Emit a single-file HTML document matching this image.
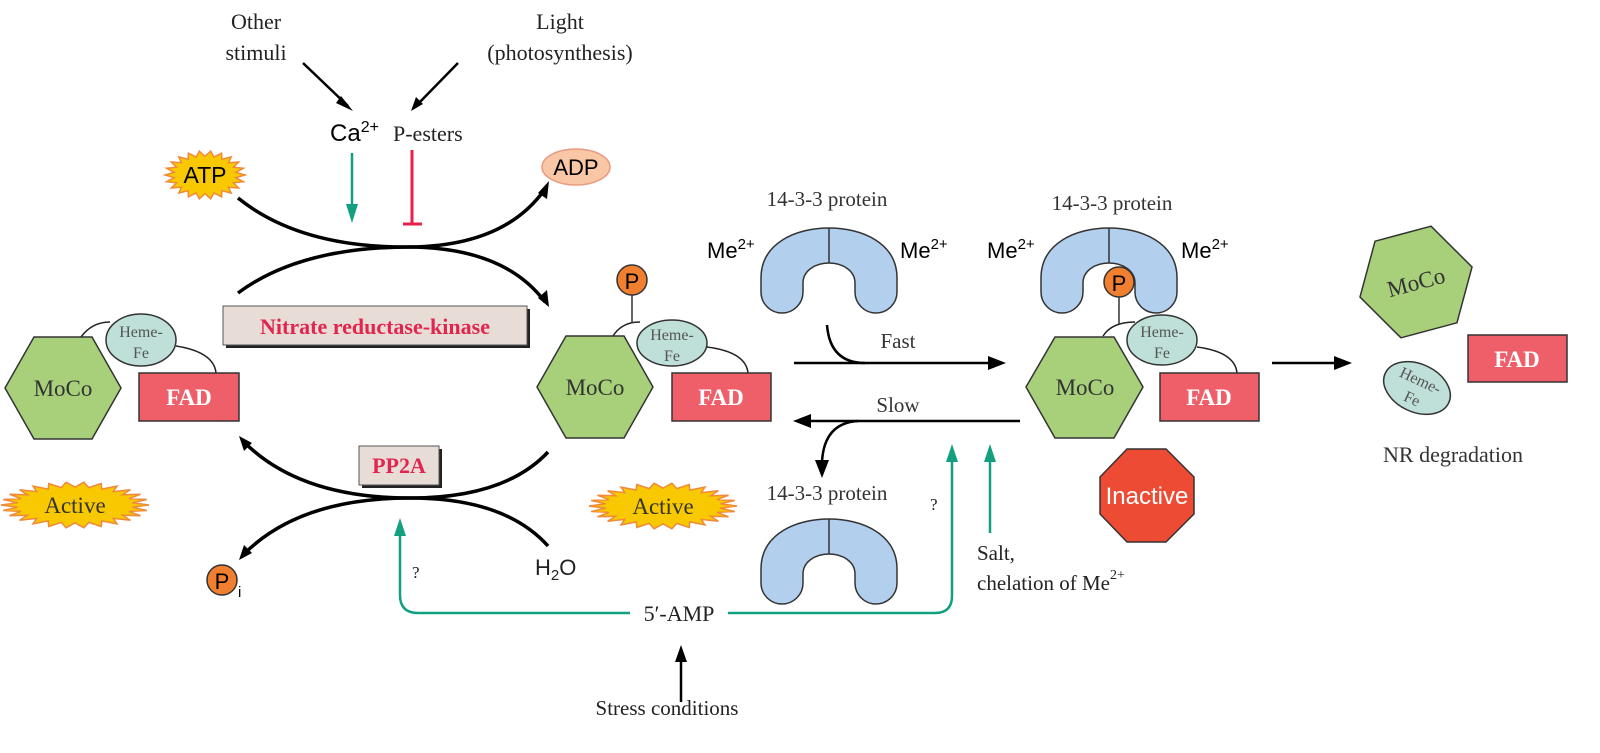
<!DOCTYPE html>
<html><head><meta charset="utf-8"><style>
html,body{margin:0;padding:0;background:#fff;}
svg{display:block;}
.s{font-family:"Liberation Serif",serif;}
.a{font-family:"Liberation Sans",sans-serif;}
</style></head><body>
<svg width="1600" height="753" viewBox="0 0 1600 753" xmlns="http://www.w3.org/2000/svg">
<defs>
<g id="U">
<path d="M0,50 C0,15 35,0 68,0 C101,0 136,15 136,50 L136,64 A21,21 0 0 1 94,64 L94,55 C94,43 82,35 68,35 C54,35 42,43 42,55 L42,64 A21,21 0 0 1 0,64 Z" fill="#b3cfee" stroke="#333" stroke-width="1.5"/>
<path d="M68,0 V35" stroke="#333" stroke-width="1.5"/>
</g>
</defs>

<!-- top labels -->
<text class="s" x="256" y="29" font-size="22" text-anchor="middle" fill="#222">Other</text>
<text class="s" x="256" y="60" font-size="22" text-anchor="middle" fill="#222">stimuli</text>
<text class="s" x="560" y="29" font-size="22" text-anchor="middle" fill="#222">Light</text>
<text class="s" x="560" y="60" font-size="22" text-anchor="middle" fill="#222">(photosynthesis)</text>
<path d="M303,63 L348,106" stroke="#000" stroke-width="2.5" fill="none"/>
<path d="M341,96 L353,111 L336,103 Z" fill="#000"/>
<path d="M458,63 L416,106" stroke="#000" stroke-width="2.5" fill="none"/>
<path d="M423,104 L411,111 L416,97 Z" fill="#000"/>
<text class="a" x="330" y="141" font-size="24" fill="#000">Ca<tspan font-size="16" dy="-9">2+</tspan></text>
<text class="s" x="393" y="141" font-size="22" fill="#222">P-esters</text>

<!-- green and red top -->
<path d="M352,153 V210" stroke="#12a080" stroke-width="2.5"/>
<path d="M346,204 L352,223 L358,204 Z" fill="#12a080"/>
<path d="M412,150 V224 M403,224 H422" stroke="#e8204a" stroke-width="3"/>

<!-- starbursts -->
<polygon id="b1" fill="#f8c800" stroke="#f08a3a" stroke-width="1.5"/>
<polygon id="b2" fill="#f8c800" stroke="#f08a3a" stroke-width="1.5"/>
<polygon id="b3" fill="#f8c800" stroke="#f08a3a" stroke-width="1.5"/>
<text class="a" x="205" y="183" font-size="23" text-anchor="middle" fill="#000">ATP</text>
<ellipse cx="576" cy="167" rx="34" ry="18" fill="#f9c6a6" stroke="#e89a80" stroke-width="1.5"/>
<text class="a" x="576" y="175" font-size="22" text-anchor="middle" fill="#000">ADP</text>

<!-- top arcs -->
<path d="M238,198 Q300,248 410,247 Q505,246 545,189" stroke="#000" stroke-width="3.5" fill="none"/>
<path d="M538,193 L549,181 L547,199 Z" fill="#000"/>
<path d="M238,293 Q300,247 410,247 Q505,248 545,302" stroke="#000" stroke-width="3.5" fill="none"/>
<path d="M538,298 L549,307 L547,290 Z" fill="#000"/>

<!-- NRK box -->
<rect x="226" y="309" width="304" height="39" fill="#222"/>
<rect x="223" y="306" width="304" height="39" fill="#e8ddd6" stroke="#555" stroke-width="1"/>
<text class="s" x="375" y="334" font-size="22" font-weight="bold" text-anchor="middle" fill="#e0264f">Nitrate reductase-kinase</text>

<!-- left complex -->
<path d="M81,337 Q92,322 110,322" stroke="#222" stroke-width="1.5" fill="none"/>
<path d="M176,346 Q214,352 216,373" stroke="#222" stroke-width="1.5" fill="none"/>
<polygon points="5,388 34,337 92,337 121,388 92,439 34,439" fill="#a8d07a" stroke="#333" stroke-width="1.5"/>
<text class="s" x="63" y="396" font-size="23" text-anchor="middle" fill="#333">MoCo</text>
<ellipse cx="141" cy="340" rx="35" ry="26" fill="#bfe0d8" stroke="#333" stroke-width="1.5"/>
<text class="s" x="141" y="337" font-size="16" text-anchor="middle" fill="#555">Heme-</text>
<text class="s" x="141" y="358" font-size="16" text-anchor="middle" fill="#555">Fe</text>
<rect x="139" y="373" width="100" height="48" fill="#ee5f6a" stroke="#333" stroke-width="1.5"/>
<text class="s" x="189" y="405" font-size="23" font-weight="bold" text-anchor="middle" fill="#fff">FAD</text>

<!-- middle complex -->
<path d="M613,336 Q622,322 640,322" stroke="#222" stroke-width="1.5" fill="none"/>
<path d="M632,295 V323" stroke="#333" stroke-width="1.5"/>
<circle cx="632" cy="280" r="15" fill="#f08030" stroke="#333" stroke-width="1.5"/>
<text class="a" x="632" y="289" font-size="22" text-anchor="middle" fill="#000">P</text>
<path d="M707,347 Q746,352 748,373" stroke="#222" stroke-width="1.5" fill="none"/>
<polygon points="537,387 566,336 624,336 653,387 624,438 566,438" fill="#a8d07a" stroke="#333" stroke-width="1.5"/>
<text class="s" x="595" y="395" font-size="23" text-anchor="middle" fill="#333">MoCo</text>
<ellipse cx="672" cy="343" rx="35" ry="23" fill="#bfe0d8" stroke="#333" stroke-width="1.5"/>
<text class="s" x="672" y="340" font-size="16" text-anchor="middle" fill="#555">Heme-</text>
<text class="s" x="672" y="361" font-size="16" text-anchor="middle" fill="#555">Fe</text>
<rect x="672" y="373" width="99" height="48" fill="#ee5f6a" stroke="#333" stroke-width="1.5"/>
<text class="s" x="721" y="405" font-size="23" font-weight="bold" text-anchor="middle" fill="#fff">FAD</text>

<!-- bottom arcs -->
<path d="M548,452 Q505,498 410,498 Q300,498 244,442" stroke="#000" stroke-width="3.5" fill="none"/>
<path d="M239,436 L252,443 L244,451 Z" fill="#000"/>
<path d="M548,546 Q505,498 410,498 Q300,498 244,554" stroke="#000" stroke-width="3.5" fill="none"/>
<path d="M239,560 L252,553 L244,545 Z" fill="#000"/>
<rect x="362" y="449" width="80" height="39" fill="#222"/>
<rect x="359" y="446" width="80" height="39" fill="#e8ddd6" stroke="#555" stroke-width="1"/>
<text class="s" x="399" y="473" font-size="22" font-weight="bold" text-anchor="middle" fill="#e0264f">PP2A</text>

<text class="s" x="75" y="513" font-size="23" text-anchor="middle" fill="#333">Active</text>
<text class="s" x="663" y="514" font-size="23" text-anchor="middle" fill="#333">Active</text>

<circle cx="222" cy="580" r="15" fill="#f08030" stroke="#333" stroke-width="1.5"/>
<text class="a" x="222" y="589" font-size="22" text-anchor="middle" fill="#000">P</text>
<text class="a" x="238" y="597" font-size="15" fill="#000">i</text>
<text class="a" x="535" y="575" font-size="22" fill="#222">H<tspan font-size="15" dy="5">2</tspan><tspan dy="-5">O</tspan></text>

<!-- green 5'-AMP -->
<path d="M400,535 V595 Q400,613 418,613 H630 M728,613 H935 Q952,613 952,596 V458" stroke="#12a080" stroke-width="2.5" fill="none"/>
<path d="M394,536 L400,518 L406,536 Z" fill="#12a080"/>
<path d="M946,462 L952,444 L958,462 Z" fill="#12a080"/>
<path d="M990,533 V460" stroke="#12a080" stroke-width="2.5"/>
<path d="M984,462 L990,444 L996,462 Z" fill="#12a080"/>
<text class="s" x="412" y="578" font-size="17" fill="#222">?</text>
<text class="s" x="930" y="510" font-size="17" fill="#222">?</text>
<text class="s" x="679" y="621" font-size="22" text-anchor="middle" fill="#222">5′-AMP</text>
<path d="M681,702 V660" stroke="#000" stroke-width="2.5"/>
<path d="M675,662 L681,645 L687,662 Z" fill="#000"/>
<text class="s" x="667" y="715" font-size="21" text-anchor="middle" fill="#222">Stress conditions</text>

<!-- 14-3-3 top middle -->
<text class="s" x="827" y="206" font-size="21" text-anchor="middle" fill="#333">14-3-3 protein</text>
<use href="#U" x="761" y="228"/>
<text class="a" x="707" y="258" font-size="22" fill="#000">Me<tspan font-size="15" dy="-9">2+</tspan></text>
<text class="a" x="900" y="258" font-size="22" fill="#000">Me<tspan font-size="15" dy="-9">2+</tspan></text>

<!-- Fast / Slow -->
<path d="M827,325 Q830,363 865,363" stroke="#000" stroke-width="2.5" fill="none"/>
<path d="M794,363 H992" stroke="#000" stroke-width="2.5"/>
<path d="M988,356 L1006,363 L988,370 Z" fill="#000"/>
<text class="s" x="898" y="348" font-size="21" text-anchor="middle" fill="#333">Fast</text>
<path d="M1020,421 H808" stroke="#000" stroke-width="2.5"/>
<path d="M811,414 L793,421 L811,428 Z" fill="#000"/>
<text class="s" x="898" y="412" font-size="21" text-anchor="middle" fill="#333">Slow</text>
<path d="M858,421 Q824,423 822,462" stroke="#000" stroke-width="2.5" fill="none"/>
<path d="M815,460 L822,478 L829,460 Z" fill="#000"/>

<!-- 14-3-3 bottom -->
<text class="s" x="827" y="500" font-size="21" text-anchor="middle" fill="#333">14-3-3 protein</text>
<use href="#U" x="761" y="519"/>

<!-- right complex -->
<text class="s" x="1112" y="210" font-size="21" text-anchor="middle" fill="#333">14-3-3 protein</text>
<use href="#U" x="1041" y="228"/>
<text class="a" x="987" y="258" font-size="22" fill="#000">Me<tspan font-size="15" dy="-9">2+</tspan></text>
<text class="a" x="1181" y="258" font-size="22" fill="#000">Me<tspan font-size="15" dy="-9">2+</tspan></text>
<path d="M1103,336 Q1112,322 1135,322" stroke="#222" stroke-width="1.5" fill="none"/>
<path d="M1119,297 V325" stroke="#333" stroke-width="1.5"/>
<circle cx="1119" cy="282" r="15" fill="#f08030" stroke="#333" stroke-width="1.5"/>
<text class="a" x="1119" y="291" font-size="22" text-anchor="middle" fill="#000">P</text>
<path d="M1197,347 Q1235,352 1237,373" stroke="#222" stroke-width="1.5" fill="none"/>
<polygon points="1026,387 1055,337 1114,337 1143,387 1114,438 1055,438" fill="#a8d07a" stroke="#333" stroke-width="1.5"/>
<text class="s" x="1085" y="395" font-size="23" text-anchor="middle" fill="#333">MoCo</text>
<ellipse cx="1162" cy="340" rx="35" ry="25" fill="#bfe0d8" stroke="#333" stroke-width="1.5"/>
<text class="s" x="1162" y="337" font-size="16" text-anchor="middle" fill="#555">Heme-</text>
<text class="s" x="1162" y="358" font-size="16" text-anchor="middle" fill="#555">Fe</text>
<rect x="1160" y="373" width="99" height="48" fill="#ee5f6a" stroke="#333" stroke-width="1.5"/>
<text class="s" x="1209" y="405" font-size="23" font-weight="bold" text-anchor="middle" fill="#fff">FAD</text>

<polygon points="1127,449 1166,449 1194,477 1194,514 1166,542 1127,542 1100,514 1100,477" fill="#ee4b35" stroke="#333" stroke-width="1.5"/>
<text class="a" x="1147" y="504" font-size="24" text-anchor="middle" fill="#fff">Inactive</text>

<text class="s" x="977" y="560" font-size="21" fill="#222">Salt,</text>
<text class="s" x="977" y="590" font-size="21" fill="#222">chelation of Me<tspan font-size="14" dy="-11">2+</tspan></text>

<!-- degradation -->
<path d="M1272,363 H1336" stroke="#000" stroke-width="2.5"/>
<path d="M1334,356 L1352,363 L1334,370 Z" fill="#000"/>
<g transform="translate(1416,282) rotate(-15)">
<polygon points="-58,0 -29,-50 29,-50 58,0 29,50 -29,50" fill="#a8d07a" stroke="#333" stroke-width="1.5"/>
<text class="s" x="0" y="8" font-size="23" text-anchor="middle" fill="#333">MoCo</text>
</g>
<g transform="translate(1417,388) rotate(25)">
<ellipse cx="0" cy="0" rx="35" ry="24" fill="#bfe0d8" stroke="#333" stroke-width="1.5"/>
<text class="s" x="0" y="-3" font-size="16" text-anchor="middle" fill="#555">Heme-</text>
<text class="s" x="0" y="17" font-size="16" text-anchor="middle" fill="#555">Fe</text>
</g>
<rect x="1468" y="335" width="99" height="47" fill="#ee5f6a" stroke="#333" stroke-width="1.5"/>
<text class="s" x="1517" y="367" font-size="23" font-weight="bold" text-anchor="middle" fill="#fff">FAD</text>
<text class="s" x="1453" y="462" font-size="22" text-anchor="middle" fill="#333">NR degradation</text>
</svg>
<script>
function burst(id,cx,cy,rx,ry,n){var p=[];for(var i=0;i<2*n;i++){var a=Math.PI*i/n;var k=i%2?0.78:1;p.push((cx+rx*k*Math.cos(a)).toFixed(1)+','+(cy+ry*k*Math.sin(a)).toFixed(1));}document.getElementById(id).setAttribute('points',p.join(' '));}
burst('b1',205,175,40,24,22);
burst('b2',75,505,74,23,26);
burst('b3',663,506,74,23,26);
</script>
</body></html>
